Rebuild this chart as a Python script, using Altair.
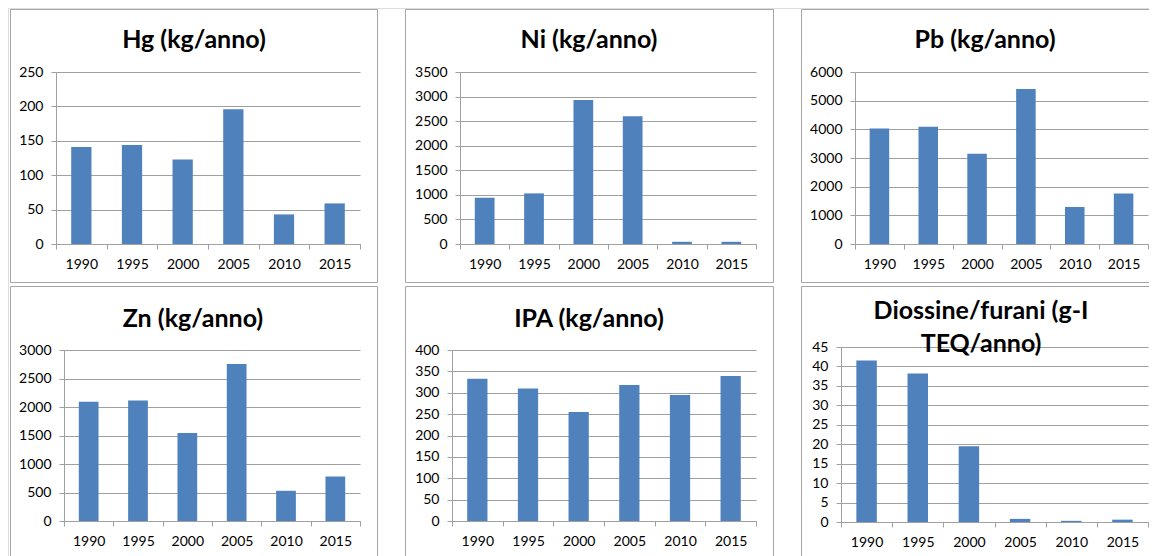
import altair as alt
import pandas as pd

# ---- data ----
years = ["1990", "1995", "2000", "2005", "2010", "2015"]
hg = [141, 144, 123, 196, 43, 59]
ni = [940, 1030, 2930, 2600, 45, 45]
pb = [4030, 4090, 3150, 5410, 1290, 1760]
zn = [2090, 2115, 1545, 2755, 530, 780]
ipa = [333, 310, 255, 318, 295, 339]
diox = [41.5, 38.2, 19.5, 0.8, 0.3, 0.6]

titles = [
    "Hg (kg/anno)",
    "Ni (kg/anno)",
    "Pb (kg/anno)",
    "Zn (kg/anno)",
    "IPA (kg/anno)",
    ["Diossine/furani (g-I", "TEQ/anno)"],
]
series = [hg, ni, pb, zn, ipa, diox]
y_max = [250, 3500, 6000, 3000, 400, 45]
y_step = [50, 500, 1000, 500, 50, 5]

# ---- page layout (pixel columns / rows of the page) ----
PAGE_W, PAGE_H = 1157, 556
M = 8  # page margin: chart origin is at (8, 8)
CW, CH = PAGE_W - 2 * M, PAGE_H - M  # chart size (no horizontal overflow)
RIGHT = M + CW  # last usable page column
layout = [
    dict(box=(10, 9, 377, 282), cut=(False, False), plot=(56, 72, 304, 172), tx=194, ty=48),
    dict(box=(405, 9, 773, 282), cut=(False, False), plot=(460, 72, 296, 172), tx=589, ty=48),
    dict(box=(801, 9, RIGHT, 282), cut=(True, False), plot=(855, 72, 293, 172), tx=985, ty=48),
    dict(box=(10, 286, 377, PAGE_H), cut=(False, True), plot=(64, 350, 296, 171), tx=193, ty=327),
    dict(box=(405, 286, 773, PAGE_H), cut=(False, True), plot=(452, 350, 304, 171), tx=589, ty=327),
    dict(box=(801, 286, RIGHT, PAGE_H), cut=(True, True), plot=(841, 347, 307, 175), tx=981, ty=319),
]

BAR = "#4F81BD"
GRID = "#A0A0A0"
BORDER = "#A6A6A6"
FONT = "Lato"

one = pd.DataFrame({"k": [0]})


def panel_layers(i):
    L = layout[i]
    bx0, by0, bx1, by1 = L["box"]
    cut_r, cut_b = L["cut"]
    px, py, W, H = L["plot"]
    x0, y0 = px - M, py - M  # chart coordinates of the plot area

    df = pd.DataFrame({"anno": years, "valore": series[i]})
    bars = alt.Chart(df).mark_bar(color=BAR, width=alt.RelativeBandSize(0.4)).encode(
        x=alt.X(
            "anno:N",
            sort=None,
            title=None,
            scale=alt.Scale(range=[x0, x0 + W], paddingInner=0, paddingOuter=0),
            axis=alt.Axis(
                orient="bottom",
                offset=(y0 + H) - CH,
                labelAngle=0,
                tickBand="extent",
                tickSize=5,
                tickColor=GRID,
                domainColor=GRID,
                labelPadding=8,
                labelFontSize=14,
                labelColor="#000000",
                labelFont=FONT,
                grid=False,
            ),
        ),
        y=alt.Y(
            "valore:Q",
            title=None,
            scale=alt.Scale(domain=[0, y_max[i]], range=[y0 + H, y0], nice=False, zero=True),
            axis=alt.Axis(
                orient="left",
                offset=-x0,
                values=list(range(0, y_max[i] + 1, y_step[i])),
                format="d",
                tickSize=5,
                tickColor=GRID,
                domainColor=GRID,
                gridColor=GRID,
                grid=True,
                labelPadding=8,
                labelFontSize=14,
                labelColor="#000000",
                labelFont=FONT,
            ),
        ),
    )

    deco = alt.Chart(one)
    xl = bx0 + 0.5 - M
    yt = by0 + 0.5 - M
    xr = CW if cut_r else bx1 + 0.5 - M
    yb = CH if cut_b else by1 + 0.5 - M

    layers = []
    rule = dict(color=BORDER, strokeWidth=1)
    layers.append(deco.mark_rule(**rule).encode(x=alt.value(xl), x2=alt.value(xr), y=alt.value(yt)))
    layers.append(deco.mark_rule(**rule).encode(x=alt.value(xl), y=alt.value(yt), y2=alt.value(yb)))
    if not cut_r:
        layers.append(deco.mark_rule(**rule).encode(x=alt.value(xr), y=alt.value(yt), y2=alt.value(yb)))
    if not cut_b:
        layers.append(deco.mark_rule(**rule).encode(x=alt.value(xl), x2=alt.value(xr), y=alt.value(yb)))

    layers.append(bars)

    title = deco.mark_text(
        font=FONT,
        fontSize=25,
        fontWeight="bold",
        color="#000000",
        align="center",
        baseline="alphabetic",
        lineHeight=33,
    ).encode(
        x=alt.value(L["tx"] - M),
        y=alt.value(L["ty"] - M),
        text=alt.value(titles[i]),
    )
    layers.append(title)
    return layers


all_layers = []
for i in range(6):
    all_layers += panel_layers(i)

chart = (
    alt.layer(*all_layers)
    .resolve_scale(x="independent", y="independent")
    .resolve_axis(x="independent", y="independent")
    .properties(
        width=CW,
        height=CH,
        padding=0,
        autosize=alt.AutoSizeParams(type="none"),
        background="#ffffff",
    )
    .configure_view(stroke=None)
    .configure(font=FONT)
)

chart.save("out.html", embed_options={"renderer": "svg", "actions": False})
